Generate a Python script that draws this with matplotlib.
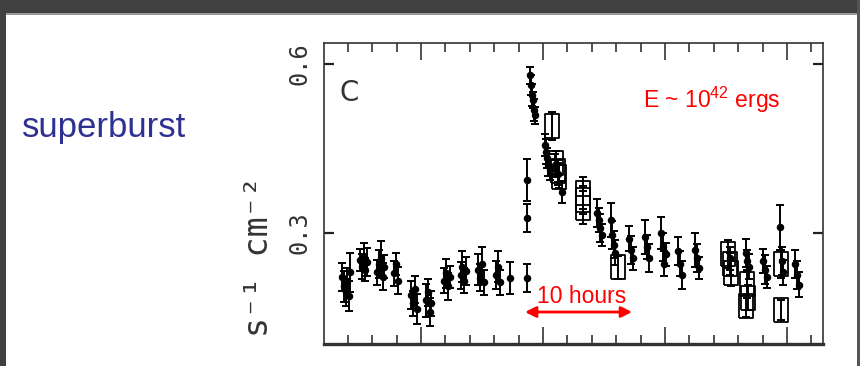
"""Superburst light curve panel with annotations."""

import matplotlib

matplotlib.use("Agg")
import matplotlib.pyplot as plt
from matplotlib.patches import Rectangle
from matplotlib.path import Path

# time in ks, flux in counts s^-1 cm^-2
dot_t = [14.2, 14.8, 15.3, 15.8, 16.3, 16.8, 20.0, 20.6, 21.2, 21.8, 22.3,
         25.6, 26.2, 26.8, 27.4, 28.0, 31.2, 31.8, 32.4, 36.8, 37.4, 38.0, 38.6,
         41.6, 42.2, 42.8, 43.4, 47.6, 48.2, 48.8, 49.4, 53.0, 53.6, 54.2, 54.8,
         58.8, 59.4, 60.0, 60.6, 64.6, 65.2, 65.8, 69.2, 74.8, 74.8, 74.8,
         75.8, 76.1, 76.5, 76.8, 77.1, 77.4, 80.6, 81.0, 81.4, 81.8, 82.2,
         84.0, 85.0, 86.2, 97.8, 98.3, 98.8, 99.3, 102.2, 102.7, 103.2, 103.7,
         108.2, 108.8, 109.4, 113.4, 114.0, 114.6, 118.6, 119.2, 119.8, 120.3,
         124.3, 124.9, 125.5, 129.9, 130.5, 131.1, 141.2, 146.4, 147.0, 147.6,
         152.2, 152.8, 153.4, 157.8, 158.2, 158.6, 162.7, 163.3, 163.9]
dot_rate = [0.222, 0.205, 0.195, 0.215, 0.188, 0.230, 0.252, 0.240, 0.258, 0.235, 0.248,
            0.230, 0.245, 0.255, 0.222, 0.240, 0.228, 0.245, 0.215, 0.190, 0.175, 0.200, 0.165,
            0.180, 0.195, 0.160, 0.175, 0.215, 0.228, 0.205, 0.222, 0.225, 0.240, 0.215, 0.232,
            0.235, 0.220, 0.245, 0.212, 0.225, 0.240, 0.212, 0.220, 0.220, 0.326, 0.394,
            0.580, 0.563, 0.545, 0.536, 0.518, 0.509, 0.456, 0.444, 0.433, 0.421, 0.412,
            0.420, 0.405, 0.373, 0.335, 0.323, 0.309, 0.296, 0.323, 0.296, 0.279, 0.265,
            0.290, 0.270, 0.255, 0.293, 0.275, 0.255, 0.300, 0.275, 0.245, 0.262,
            0.268, 0.245, 0.225, 0.270, 0.255, 0.238, 0.255, 0.265, 0.250, 0.240,
            0.250, 0.235, 0.222, 0.310, 0.250, 0.230, 0.245, 0.225, 0.208]
dot_err = [0.025, 0.028, 0.024, 0.022, 0.026, 0.035, 0.020, 0.022, 0.024, 0.020, 0.025,
           0.022, 0.025, 0.030, 0.024, 0.020, 0.022, 0.020, 0.024, 0.025, 0.022, 0.024, 0.026,
           0.030, 0.024, 0.025, 0.022, 0.022, 0.026, 0.024, 0.020, 0.024, 0.028, 0.022, 0.025,
           0.028, 0.024, 0.030, 0.022, 0.025, 0.028, 0.022, 0.028, 0.025, 0.025, 0.038,
           0.015, 0.018, 0.020, 0.015, 0.020, 0.015, 0.020, 0.022, 0.018, 0.020, 0.018,
           0.020, 0.020, 0.020, 0.025, 0.022, 0.025, 0.020, 0.030, 0.025, 0.024, 0.022,
           0.022, 0.025, 0.020, 0.030, 0.022, 0.025, 0.028, 0.025, 0.022, 0.020,
           0.025, 0.022, 0.025, 0.030, 0.025, 0.020, 0.020, 0.025, 0.020, 0.022,
           0.022, 0.025, 0.020, 0.040, 0.025, 0.022, 0.025, 0.025, 0.022]

box_t = [83.0, 84.2, 84.8, 85.2, 93.1, 93.1, 93.1, 104.6, 140.8, 141.3, 141.8,
         146.9, 147.2, 146.6, 158.0, 158.0]
box_rate = [0.490, 0.425, 0.410, 0.400, 0.371, 0.358, 0.345, 0.239, 0.262, 0.245, 0.228,
            0.210, 0.185, 0.170, 0.245, 0.163]
box_err = [0.025, 0.020, 0.020, 0.020, 0.028, 0.025, 0.030, 0.020, 0.025, 0.020, 0.022,
           0.025, 0.022, 0.020, 0.025, 0.018]

y_ticks = [0.3, 0.6]
y_tick_labels = ["0.3", "0.6"]

plt.rcParams["mathtext.fontset"] = "custom"
plt.rcParams["mathtext.rm"] = "Liberation Sans"

fig = plt.figure(figsize=(8.6, 3.66), dpi=100)

# slide frame
fig.add_artist(Rectangle((0, 1 - 13 / 366), 1, 13 / 366, transform=fig.transFigure,
                         color="#404040", lw=0))
fig.add_artist(Rectangle((0, 1 - 15 / 366), 1, 2 / 366, transform=fig.transFigure,
                         color="#9a9a9a", lw=0))
fig.add_artist(Rectangle((0, 0), 6 / 860, 1, transform=fig.transFigure,
                         color="#404040", lw=0))
fig.add_artist(Rectangle((857 / 860, 0), 3 / 860, 1, transform=fig.transFigure,
                         color="#555555", lw=0))

fig.text(22 / 860, 1 - 137 / 366, "superburst", fontsize=25, color="#2e3192",
         family="Liberation Sans", ha="left", va="baseline")

ax = fig.add_axes([324 / 860, 1 - 344 / 366, 499 / 860, 301 / 366])
ax.set_xlim(8.2, 171.8)
ax.set_ylim(0.1027, 0.6373)

box_marker = Path([(-0.6, -1), (0.6, -1), (0.6, 1), (-0.6, 1), (-0.6, -1)])

ax.errorbar(dot_t, dot_rate, yerr=dot_err, fmt="o", ms=4.4, color="k",
            ecolor="k", elinewidth=1.4, capsize=2.6, capthick=1.4)
ax.errorbar(box_t, box_rate, yerr=box_err, fmt="none", ecolor="k",
            elinewidth=1.4, capsize=2.6, capthick=1.4)
ax.plot(box_t, box_rate, ls="none", marker=box_marker, ms=17, mfc="none",
        mec="k", mew=1.3)

ax.set_xticks([40, 80, 120, 160])
ax.set_xticks(list(range(16, 172, 8)), minor=True)
ax.tick_params(axis="x", which="both", direction="in", top=True, bottom=True,
               labelbottom=False, width=1.1, colors="#222222")
ax.tick_params(axis="x", which="major", length=12.5)
ax.tick_params(axis="x", which="minor", length=6.5)

ax.set_yticks(y_ticks, y_tick_labels)
ax.tick_params(axis="y", which="both", direction="in", left=True, right=True,
               length=7, width=1.6, pad=9, labelsize=17, colors="#222222")
for lab in ax.get_yticklabels():
    lab.set_rotation(90)
    lab.set_va("center")
    lab.set_family("DejaVu Sans Mono")
    lab.set_color("#333333")

for side in ["left", "right", "top"]:
    ax.spines[side].set_linewidth(1.2)
    ax.spines[side].set_color("#333333")
ax.spines["bottom"].set_linewidth(2.4)
ax.spines["bottom"].set_color("#333333")

ax.set_ylabel("s\u207b\u00b9 cm\u207b\u00b2", fontsize=24, family="DejaVu Sans Mono",
              color="#333333")
ax.yaxis.set_label_coords(-0.098, 0.292)

ax.text(0.05, 0.834, "C", transform=ax.transAxes, fontsize=20, ha="center",
        va="center", family="DejaVu Sans", color="#333333")

ax.text(112.8, 0.522, r"E ~ 10$^{42}$ ergs", color="red", fontsize=16.5,
        family="Liberation Sans", ha="left", va="baseline")

ax.annotate("", xy=(74.1, 0.1595), xytext=(109.2, 0.1595),
            arrowprops=dict(arrowstyle="<|-|>", color="red", lw=2,
                            mutation_scale=16, shrinkA=0, shrinkB=0))
ax.text(92.8, 0.1755, "10 hours", color="red", fontsize=16.5,
        family="Liberation Sans", ha="center", va="baseline")

fig.savefig("out.png", dpi=100)
